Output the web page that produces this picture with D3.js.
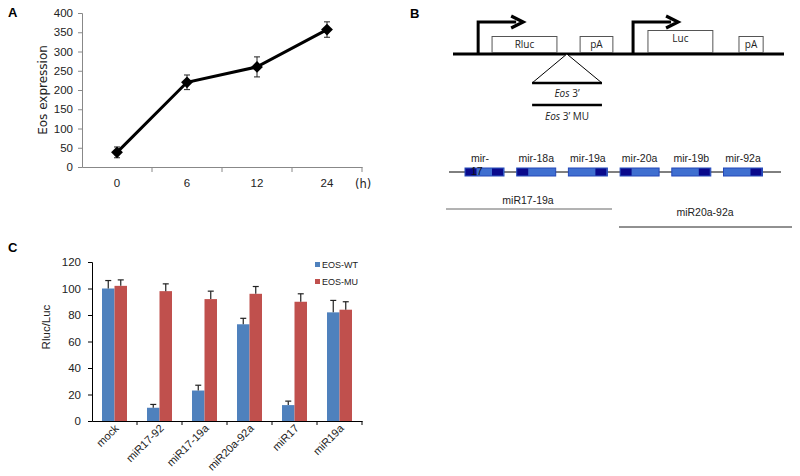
<!DOCTYPE html>
<html lang="en">
<head>
    <meta charset="UTF-8">
    <title>Eos expression and reporter assay</title>
    <script src="https://cdnjs.cloudflare.com/ajax/libs/d3/7.8.5/d3.min.js"></script>
    <style>
        body { margin: 0; background: white; }
        svg { display: block; }
        .verd { font-family: "DejaVu Sans", Verdana, sans-serif; }
        .ari { font-family: "Liberation Sans", Arial, sans-serif; }
        .cal { font-family: "Open Sans", "Liberation Sans", sans-serif; }
    </style>
</head>
<body>
<svg id="fig" width="800" height="476"></svg>
<script>
    // panel A - time course
    const hours = ['0', '6', '12', '24'];
    const eosMean = [38, 220, 260, 357];
    const eosErr = [14, 19, 26, 20];
    const yTicksA = [0, 50, 100, 150, 200, 250, 300, 350, 400];

    // panel B - schematic (construct units 0..100, cluster order)
    const constructBoxes = ['Rluc', 'pA', 'Luc', 'pA'];
    const boxStart = [11.8, 38.4, 58.9, 86.4];
    const boxEnd = [31.4, 48.3, 78.5, 93.7];
    const boxTall = [false, false, true, false];
    const promoters = [7.6, 54.4];
    const insertAt = 34.4;
    const insertSpan = [23.9, 45.0];
    const mirNames = ['mir-17', 'mir-18a', 'mir-19a', 'mir-20a', 'mir-19b', 'mir-92a'];
    const mirSeedSide = ['both', 'left', 'right', 'left', 'right', 'right'];
    const subClusters = ['miR17-19a', 'miR20a-92a'];

    // panel C - luciferase assay
    const groups = ['mock', 'miR17-92', 'miR17-19a', 'miR20a-92a', 'miR17', 'miR19a'];
    const series = ['EOS-WT', 'EOS-MU'];
    const wtMean = [100, 10, 23, 73, 12, 82];
    const wtErr = [6, 2.5, 4, 4.5, 3, 9];
    const muMean = [102, 98, 92, 96, 90, 84];
    const muErr = [4.5, 5.5, 6, 5.5, 6, 6];
    const yTicksC = [0, 20, 40, 60, 80, 100, 120];

    const svg = d3.select('#fig');

    // ---------- A ----------
    const A = svg.append('g').attr('class', 'verd');
    A.append('text').attr('x', 8).attr('y', 17).text('A')
        .attr('class', 'ari').style('font-weight', 'bold').style('font-size', '13px');

    const xA = d3.scaleBand().domain(hours).range([82, 362]);
    const yA = d3.scaleLinear().domain([0, 400]).range([167, 13]);

    const yAxA = d3.axisLeft(yA).tickValues(yTicksA).tickSize(4).tickPadding(5);
    A.append('g').attr('transform', 'translate(82,0)').call(yAxA)
        .call(g => g.selectAll('path,line').attr('stroke', '#888'))
        .call(g => g.selectAll('text').style('font-size', '11.5px').attr('fill', '#222')
            .attr('font-family', null));

    const xAxA = d3.axisBottom(xA).tickSize(0).tickPadding(12);
    A.append('g').attr('transform', 'translate(0,167)').call(xAxA)
        .call(g => g.select('path').attr('stroke', '#888'))
        .call(g => g.selectAll('text').style('font-size', '11.5px').attr('fill', '#222')
            .attr('font-family', null));
    // ticks between categories
    A.selectAll('.btick').data(hours.slice(1).concat(['end']))
        .enter().append('line')
        .attr('x1', (d, i) => xA(hours[0]) + xA.step() * (i + 1))
        .attr('x2', (d, i) => xA(hours[0]) + xA.step() * (i + 1))
        .attr('y1', 167).attr('y2', 172).attr('stroke', '#888');

    A.append('text').attr('x', 355).attr('y', 188).text('(h)')
        .style('font-size', '11.5px').attr('fill', '#222');
    A.append('text').attr('transform', 'translate(47,90) rotate(-90)')
        .attr('text-anchor', 'middle').text('Eos expression')
        .style('font-size', '12px').attr('fill', '#222');

    const cx = h => xA(h) + xA.bandwidth() / 2;
    // error bars
    hours.forEach((h, i) => {
        const x = cx(h);
        A.append('line').attr('x1', x).attr('x2', x)
            .attr('y1', yA(eosMean[i] - eosErr[i])).attr('y2', yA(eosMean[i] + eosErr[i]))
            .attr('stroke', '#222');
        [eosMean[i] - eosErr[i], eosMean[i] + eosErr[i]].forEach(v => {
            A.append('line').attr('x1', x - 3).attr('x2', x + 3)
                .attr('y1', yA(v)).attr('y2', yA(v)).attr('stroke', '#222');
        });
    });
    A.append('path').datum(eosMean)
        .attr('d', d3.line().x((d, i) => cx(hours[i])).y(d => yA(d)))
        .attr('fill', 'none').attr('stroke', 'black').attr('stroke-width', 3);
    A.selectAll('.dia').data(eosMean).enter().append('path')
        .attr('d', d3.symbol().type(d3.symbolSquare).size(70))
        .attr('transform', (d, i) => `translate(${cx(hours[i])},${yA(d)}) rotate(45)`)
        .attr('fill', 'black');

    // ---------- B ----------
    const B = svg.append('g').attr('class', 'cal');
    B.append('text').attr('x', 410).attr('y', 18).text('B')
        .attr('class', 'ari').style('font-weight', 'bold').style('font-size', '13px');

    const xB = d3.scaleLinear().domain([0, 100]).range([453, 784]);
    const lineY = 54;
    B.append('line').attr('x1', xB(0)).attr('x2', xB(100))
        .attr('y1', lineY).attr('y2', lineY).attr('stroke', 'black').attr('stroke-width', 3);

    constructBoxes.forEach((name, i) => {
        const h = boxTall[i] ? 22 : 16;
        B.append('rect').attr('x', xB(boxStart[i])).attr('y', lineY - 1.5 - h)
            .attr('width', xB(boxEnd[i]) - xB(boxStart[i])).attr('height', h)
            .attr('fill', 'white').attr('stroke', '#555');
        B.append('text').attr('x', (xB(boxStart[i]) + xB(boxEnd[i])) / 2)
            .attr('y', lineY - 1.5 - h + 11).attr('text-anchor', 'middle')
            .text(name).style('font-size', '10px').attr('fill', '#222');
    });

    promoters.forEach(p => {
        const x = xB(p);
        B.append('path').attr('d', `M${x},${lineY} V22 H${x + 38}`)
            .attr('fill', 'none').attr('stroke', 'black').attr('stroke-width', 3);
        B.append('path').attr('d', `M${x + 33},16 L${x + 45},22 L${x + 33},28`)
            .attr('fill', 'none').attr('stroke', 'black').attr('stroke-width', 3.2);
    });

    const tri0 = xB(insertSpan[0]), tri1 = xB(insertSpan[1]), apex = xB(insertAt);
    B.append('path').attr('d', `M${apex},${lineY} L${tri0},83 L${tri1},83 Z`)
        .attr('fill', 'white').attr('stroke', 'black');
    B.append('line').attr('x1', tri0).attr('x2', tri1).attr('y1', 83).attr('y2', 83)
        .attr('stroke', 'black').attr('stroke-width', 2.5);
    B.append('line').attr('x1', tri0).attr('x2', tri1).attr('y1', 105).attr('y2', 105)
        .attr('stroke', 'black').attr('stroke-width', 2.5);
    const t1 = B.append('text').attr('x', (tri0 + tri1) / 2).attr('y', 97)
        .attr('text-anchor', 'middle').style('font-size', '10px').attr('fill', '#222');
    t1.append('tspan').style('font-style', 'italic').text('Eos');
    t1.append('tspan').text(' 3’');
    const t2 = B.append('text').attr('x', (tri0 + tri1) / 2).attr('y', 120)
        .attr('text-anchor', 'middle').style('font-size', '10px').attr('fill', '#222');
    t2.append('tspan').style('font-style', 'italic').text('Eos');
    t2.append('tspan').text(' 3’ MU');

    // miR-17~92 cluster
    const xMir = d3.scalePoint().domain(mirNames).range([484.5, 743]);
    const boxW = 39, mirY = 172;
    B.append('line').attr('x1', 449).attr('x2', 781).attr('y1', mirY).attr('y2', mirY)
        .attr('stroke', 'black');
    mirNames.forEach((m, i) => {
        const x0 = xMir(m) - boxW / 2;
        B.append('rect').attr('x', x0).attr('y', mirY - 4).attr('width', boxW).attr('height', 8)
            .attr('fill', '#3f6fd0').attr('stroke', '#2448b8');
        const side = mirSeedSide[i];
        if (side === 'left' || side === 'both')
            B.append('rect').attr('x', x0 + 0.5).attr('y', mirY - 3.5).attr('width', 11).attr('height', 7)
                .attr('fill', '#0a0a8c');
        if (side === 'right' || side === 'both')
            B.append('rect').attr('x', x0 + boxW - 12).attr('y', mirY - 3.5).attr('width', 11).attr('height', 7)
                .attr('fill', '#0a0a8c');
        if (m === 'mir-17') {
            B.append('text').attr('x', x0 + 6).attr('y', 162).text('mir-')
                .attr('class', 'ari').style('font-size', '10.5px').attr('fill', '#222');
            B.append('text').attr('x', x0 + 6).attr('y', 175).text('17')
                .attr('class', 'ari').style('font-size', '10.5px').attr('fill', '#111');
        } else {
            B.append('text').attr('x', xMir(m)).attr('y', 162).attr('text-anchor', 'middle')
                .text(m).attr('class', 'ari').style('font-size', '10.5px').attr('fill', '#222');
        }
    });

    const subStart = [446, 619], subEnd = [612, 792], subLineY = [209, 227];
    subClusters.forEach((s, i) => {
        B.append('line').attr('x1', subStart[i]).attr('x2', subEnd[i])
            .attr('y1', subLineY[i]).attr('y2', subLineY[i]).attr('stroke', i === 0 ? '#666' : '#222');
        B.append('text').attr('x', i === 0 ? 528 : 705).attr('y', subLineY[i] - 5 - (i === 0 ? 0 : 6))
            .attr('text-anchor', 'middle').text(s).attr('class', 'ari')
            .style('font-size', '10.5px').attr('fill', '#222');
    });

    // ---------- C ----------
    const C = svg.append('g').attr('class', 'ari');
    C.append('text').attr('x', 8).attr('y', 252).text('C')
        .style('font-weight', 'bold').style('font-size', '13px');

    const x0C = d3.scaleBand().domain(groups).range([92, 362]);
    const x1C = d3.scaleBand().domain(series).range([0, 25]);
    const yC = d3.scaleLinear().domain([0, 120]).range([421, 262]);
    const colors = d3.scaleOrdinal().domain(series).range(['#4f81bd', '#c0504d']);

    C.append('g').attr('transform', 'translate(92,0)')
        .call(d3.axisLeft(yC).tickValues(yTicksC).tickSize(4).tickPadding(7))
        .call(g => g.selectAll('text').style('font-size', '11.5px').attr('font-family', null).attr('fill', '#222'));
    C.append('g').attr('transform', 'translate(0,421)')
        .call(d3.axisBottom(x0C).tickSize(0).tickFormat(''));
    C.selectAll('.ctick').data(groups).enter().append('line')
        .attr('x1', d => x0C(d) + x0C.step()).attr('x2', d => x0C(d) + x0C.step())
        .attr('y1', 421).attr('y2', 425).attr('stroke', 'black');

    C.selectAll('.clab').data(groups).enter().append('text')
        .attr('transform', d => `translate(${x0C(d) + x0C.step() / 2 + 5},429) rotate(-45)`)
        .attr('text-anchor', 'end').text(d => d)
        .style('font-size', '11px').attr('fill', '#222');

    C.append('text').attr('transform', 'translate(50,327) rotate(-90)')
        .attr('text-anchor', 'middle').text('Rluc/Luc')
        .style('font-size', '11.5px').attr('fill', '#222');

    const vals = [wtMean, muMean], errs = [wtErr, muErr];
    series.forEach((s, si) => {
        groups.forEach((g, gi) => {
            const x = x0C(g) + (x0C.step() - 25) / 2 + x1C(s);
            const v = vals[si][gi], e = errs[si][gi];
            C.append('rect').attr('x', x).attr('y', yC(v))
                .attr('width', x1C.bandwidth()).attr('height', yC(0) - yC(v))
                .attr('fill', colors(s));
            const mx = x + x1C.bandwidth() / 2;
            C.append('line').attr('x1', mx).attr('x2', mx)
                .attr('y1', yC(v)).attr('y2', yC(v + e)).attr('stroke', '#222').attr('stroke-width', 1.2);
            C.append('line').attr('x1', mx - 3).attr('x2', mx + 3)
                .attr('y1', yC(v + e)).attr('y2', yC(v + e)).attr('stroke', '#222').attr('stroke-width', 1.2);
        });
    });

    series.forEach((s, i) => {
        C.append('rect').attr('x', 315).attr('y', 262 + i * 17).attr('width', 5).attr('height', 5)
            .attr('fill', colors(s));
        C.append('text').attr('x', 322).attr('y', 268 + i * 17).text(s)
            .style('font-size', '9px').attr('fill', '#222');
    });
</script>
</body>
</html>
